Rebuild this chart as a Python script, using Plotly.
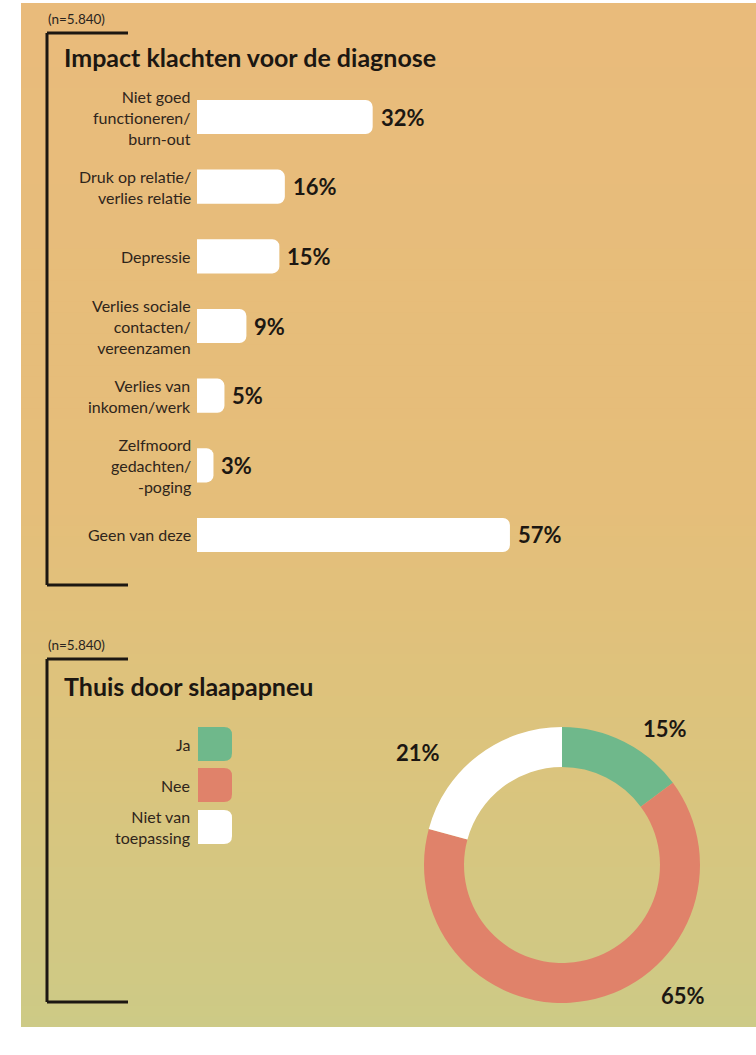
import plotly.graph_objects as go

W, H = 756, 1055

# Chart 1: impact of complaints before diagnosis (percent of respondents)
impact_categories = [
    "Niet goed\nfunctioneren/\nburn-out",
    "Druk op relatie/\nverlies relatie",
    "Depressie",
    "Verlies sociale\ncontacten/\nvereenzamen",
    "Verlies van\ninkomen/werk",
    "Zelfmoord\ngedachten/\n-poging",
    "Geen van deze",
]
impact_values = [32, 16, 15, 9, 5, 3, 57]

# Chart 2: at home because of sleep apnoea
home_labels = ["Ja", "Nee", "Niet van\ntoepassing"]
home_values = [15, 65, 21]
home_colors = ["#6FB88B", "#E0826A", "#FFFFFF"]

sample_note = "(n=5.840)"
title_impact = "Impact klachten voor de diagnose"
title_home = "Thuis door slaapapneu"

FONT = "Lato"
INK = "#1C1712"
LABEL_INK = "#2F251B"
LABEL_SIZE = 16
VALUE_SIZE = 22
TITLE_SIZE = 25


def px(x):
    return x / W


def py(y):
    return 1 - y / H


def multiline(s):
    return s.replace("\n", "<br>")


fig = go.Figure()

# --- horizontal bars -------------------------------------------------------
fig.add_trace(go.Bar(
    x=impact_values,
    y=impact_categories,
    orientation="h",
    width=0.49,
    marker=dict(color="#FFFFFF", line=dict(width=0), cornerradius=7),
    hoverinfo="skip",
    xaxis="x", yaxis="y",
))

# --- donut -----------------------------------------------------------------
fig.add_trace(go.Pie(
    values=home_values,
    labels=[l.replace("\n", " ") for l in home_labels],
    marker=dict(colors=home_colors, line=dict(width=0)),
    hole=0.71,
    sort=False,
    direction="clockwise",
    rotation=0,
    textinfo="none",
    hoverinfo="skip",
    domain=dict(x=[px(424), px(700)], y=[py(1003), py(727)]),
))

annotations = []
shapes = []

# category labels, right-aligned against the bar base
for cat in impact_categories:
    annotations.append(dict(
        x=0, y=cat, xref="x", yref="y", text=multiline(cat), showarrow=False,
        xanchor="right", yanchor="middle", align="right", xshift=-5,
        borderpad=0,
        font=dict(family=FONT, size=LABEL_SIZE, color=LABEL_INK),
    ))

# value labels at the end of each bar
for cat, v in zip(impact_categories, impact_values):
    annotations.append(dict(
        x=v, y=cat, xref="x", yref="y", text=f"{v}%", showarrow=False,
        xanchor="left", yanchor="middle", xshift=6,
        font=dict(family=FONT, size=VALUE_SIZE, color=INK, weight="bold"),
    ))

# sample size notes and titles
for y_note, y_title, title in [(19, 57, title_impact), (645, 686, title_home)]:
    annotations.append(dict(
        x=px(46), y=py(y_note), xref="paper", yref="paper", text=sample_note,
        showarrow=False, xanchor="left", yanchor="middle",
        font=dict(family=FONT, size=13.5, color="#2A2420"),
    ))
    annotations.append(dict(
        x=px(62), y=py(y_title), xref="paper", yref="paper", text=title,
        showarrow=False, xanchor="left", yanchor="middle",
        font=dict(family=FONT, size=TITLE_SIZE, color=INK, weight="bold"),
    ))

# donut value labels
donut_label_pos = [(665, 728), (683, 995), (418, 752)]
for v, (lx, ly) in zip(home_values, donut_label_pos):
    annotations.append(dict(
        x=px(lx), y=py(ly), xref="paper", yref="paper", text=f"{v}%",
        showarrow=False, xanchor="center", yanchor="middle",
        font=dict(family=FONT, size=VALUE_SIZE, color=INK, weight="bold"),
    ))

# legend: labels on the left, rounded swatches on the right
legend_rows = [744, 785, 827]
sw_x0, sw_x1, sw_h, r = 198, 232, 34, 8
for lab, col, yc in zip(home_labels, home_colors, legend_rows):
    annotations.append(dict(
        x=px(191), y=py(yc), xref="paper", yref="paper", text=multiline(lab),
        showarrow=False, xanchor="right", yanchor="middle", align="right",
        borderpad=0,
        font=dict(family=FONT, size=LABEL_SIZE, color=LABEL_INK),
    ))
    y0, y1 = yc - sw_h / 2, yc + sw_h / 2
    pts = (
        f"M {px(sw_x0)},{py(y0)} L {px(sw_x1 - r)},{py(y0)} "
        f"Q {px(sw_x1)},{py(y0)} {px(sw_x1)},{py(y0 + r)} "
        f"L {px(sw_x1)},{py(y1 - r)} Q {px(sw_x1)},{py(y1)} {px(sw_x1 - r)},{py(y1)} "
        f"L {px(sw_x0)},{py(y1)} Z"
    )
    shapes.append(dict(type="path", path=pts, xref="paper", yref="paper",
                       fillcolor=col, line=dict(width=0), layer="above"))

# background panel: vertical warm-to-olive gradient built from thin strips
stops = [(3, (233, 187, 123)), (500, (229, 190, 122)), (760, (219, 196, 125)), (1027, (205, 202, 134))]


def colour_at(y):
    for (ya, ca), (yb, cb) in zip(stops[:-1], stops[1:]):
        if ya <= y <= yb:
            t = (y - ya) / (yb - ya)
            return tuple(round(a + (b - a) * t) for a, b in zip(ca, cb))
    return stops[-1][1]


N = 96
top, bottom = 3, 1027
step = (bottom - top) / N
for k in range(N):
    ya = top + k * step
    yb = ya + step + 0.6
    c = colour_at(ya + step / 2)
    shapes.append(dict(type="rect", xref="paper", yref="paper",
                       x0=px(21), x1=1, y0=py(min(yb, bottom)), y1=py(ya),
                       fillcolor=f"rgb{c}", line=dict(width=0), layer="below"))

# brackets framing each chart
for y_top, y_bot in [(33, 585), (659, 1002)]:
    for (xa, ya, xb, yb) in [(47, y_top, 128, y_top), (47, y_top, 47, y_bot), (47, y_bot, 128, y_bot)]:
        shapes.append(dict(type="line", xref="paper", yref="paper",
                           x0=px(xa), y0=py(ya), x1=px(xb), y1=py(yb),
                           line=dict(color=INK, width=3), layer="above"))

fig.update_layout(
    width=W, height=H,
    margin=dict(l=0, r=0, t=0, b=0),
    paper_bgcolor="#FFFFFF",
    plot_bgcolor="rgba(0,0,0,0)",
    showlegend=False,
    xaxis=dict(domain=[px(197), px(746)], range=[0, 100], visible=False, fixedrange=True),
    yaxis=dict(domain=[py(569.8), py(82.2)], range=[6.5, -0.5], visible=False,
               type="category", categoryorder="array", categoryarray=impact_categories,
               fixedrange=True),
    annotations=annotations,
    shapes=shapes,
    font=dict(family=FONT),
)

fig.write_html("out.html")
